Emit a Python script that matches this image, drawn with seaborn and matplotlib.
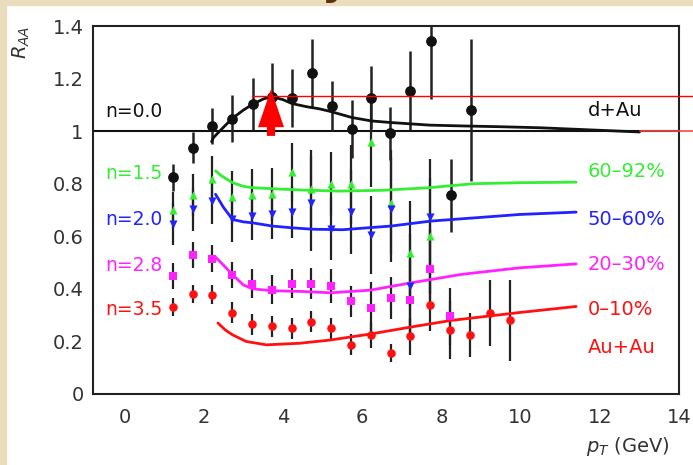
import numpy as np
import matplotlib
matplotlib.use('Agg')
import matplotlib.pyplot as plt
import seaborn as sns
from matplotlib.patches import Rectangle
from matplotlib.ticker import MultipleLocator

# --- data ---
# d+Au points (black)
dau_pt = [1.22, 1.72, 2.22, 2.72, 3.24, 3.73, 4.23, 4.74, 5.24, 5.74, 6.23, 6.71, 7.22, 7.73, 8.25, 8.75]
dau_r = [0.824, 0.937, 1.02, 1.048, 1.103, 1.131, 1.126, 1.22, 1.094, 1.008, 1.128, 0.992, 1.154, 1.342, 0.756, 1.081]
dau_err = [0.05, 0.06, 0.07, 0.09, 0.10, 0.13, 0.11, 0.13, 0.095, 0.11, 0.12, 0.10, 0.15, 0.22, 0.14, 0.27]

# Au+Au points
aa_pt = [1.22, 1.72, 2.22, 2.72, 3.22, 3.72, 4.22, 4.72, 5.22, 5.72, 6.22, 6.72, 7.22, 7.72, 8.22, 8.72, 9.22, 9.72]

per_r = [0.70, 0.757, 0.817, 0.748, 0.756, 0.76, 0.845, 0.78, 0.80, 0.798, 0.957, 0.727, 0.535, 0.60]      # 60-92%
per_err = [0.07, 0.08, 0.09, 0.10, 0.10, 0.10, 0.11, 0.15, 0.12, 0.15, 0.17, 0.20, 0.20, 0.22]
mid_r = [0.645, 0.702, 0.735, 0.667, 0.677, 0.683, 0.692, 0.725, 0.628, 0.693, 0.605, 0.702, 0.41, 0.674]  # 50-60%
mid_err = [0.08, 0.08, 0.09, 0.09, 0.09, 0.095, 0.10, 0.18, 0.12, 0.16, 0.15, 0.20, 0.20, 0.22]
semi_r = [0.45, 0.528, 0.515, 0.452, 0.42, 0.397, 0.42, 0.42, 0.41, 0.352, 0.327, 0.365, 0.359, 0.477, 0.295]  # 20-30%
semi_err = [0.05, 0.05, 0.05, 0.05, 0.055, 0.055, 0.055, 0.06, 0.065, 0.06, 0.10, 0.08, 0.15, 0.15, 0.11]
cen_r = [0.33, 0.38, 0.378, 0.31, 0.266, 0.257, 0.25, 0.274, 0.25, 0.187, 0.225, 0.155, 0.219, 0.34, 0.244, 0.225, 0.308, 0.28]  # 0-10%
cen_err = [0.035, 0.035, 0.035, 0.04, 0.04, 0.04, 0.04, 0.04, 0.04, 0.04, 0.05, 0.035, 0.07, 0.10, 0.11, 0.083, 0.127, 0.155]

# model curves
dau_curve_x = [2.2, 2.25, 2.5, 2.72, 3.0, 3.24, 3.5, 3.70, 4.0, 4.23, 4.6, 4.92, 5.2, 5.74, 6.23, 6.71, 7.7, 8.5, 9.47, 10.48, 11.74, 13.0]
dau_curve_y = [0.96, 0.976, 1.015, 1.048, 1.08, 1.103, 1.122, 1.132, 1.12, 1.105, 1.093, 1.085, 1.075, 1.052, 1.039, 1.033, 1.023, 1.02, 1.017, 1.013, 1.005, 0.997]
per_curve_x = [2.3, 2.45, 2.72, 3.0, 3.24, 3.73, 4.5, 5.43, 6.5, 7.7, 8.79, 10.0, 11.4]
per_curve_y = [0.849, 0.83, 0.805, 0.79, 0.785, 0.781, 0.776, 0.772, 0.775, 0.785, 0.80, 0.804, 0.806]
mid_curve_x = [2.3, 2.5, 2.73, 3.0, 3.24, 3.73, 4.25, 4.75, 5.5, 6.73, 7.74, 9.0, 9.97, 11.4]
mid_curve_y = [0.76, 0.71, 0.664, 0.655, 0.651, 0.639, 0.632, 0.627, 0.625, 0.639, 0.658, 0.672, 0.683, 0.692]
semi_curve_x = [2.28, 2.5, 2.73, 3.0, 3.24, 3.73, 4.5, 5.2, 6.2, 7.24, 8.5, 9.97, 11.4]
semi_curve_y = [0.524, 0.49, 0.454, 0.415, 0.40, 0.393, 0.39, 0.385, 0.395, 0.423, 0.455, 0.48, 0.495]
cen_curve_x = [2.36, 2.55, 2.73, 3.07, 3.58, 4.42, 5.18, 6.2, 7.24, 8.25, 9.97, 11.4]
cen_curve_y = [0.27, 0.243, 0.225, 0.2, 0.187, 0.193, 0.205, 0.228, 0.255, 0.28, 0.31, 0.333]

left_labels = ['n=0.0', 'n=1.5', 'n=2.0', 'n=2.8', 'n=3.5']
right_labels = ['d+Au', '60\u201392%', '50\u201360%', '20\u201330%', '0\u201310%', 'Au+Au']
y_ticks = [0, 0.2, 0.4, 0.6, 0.8, 1.0, 1.2, 1.4]
y_tick_labels = ['0', '0.2', '0.4', '0.6', '0.8', '1', '1.2', '1.4']
x_ticks = [0, 2, 4, 6, 8, 10, 12, 14]

BLACK = '#111111'
GREEN = '#33ee33'
BLUE = '#2222ff'
MAGENTA = '#ff22ff'
RED = '#ff1111'

sns.set_style('white')
plt.rcParams['font.family'] = ['DejaVu Sans']

fig = plt.figure(figsize=(6.93, 4.65), dpi=100)
# beige frame strips of the slide
fig.patches.append(Rectangle((0, 0), 6 / 693, 1, transform=fig.transFigure, color='#e9ddbb', zorder=0))
fig.patches.append(Rectangle((0, 1 - 5 / 465), 1, 5 / 465, transform=fig.transFigure, color='#e9ddbb', zorder=0))
# bottom of the slide title, cut off by the crop
fig.text(0.483, 1.013, 'y', fontsize=30, fontweight='bold', color='#5a3510', ha='center', va='baseline')

ax = fig.add_axes([0.1338, 0.1527, 0.98 - 0.1338, 0.944 - 0.1527])

ax.axhline(1.0, color=BLACK, lw=1.5, zorder=1)

# error bars (black)
ax.errorbar(dau_pt, dau_r, yerr=dau_err, fmt='none', ecolor='#222222', elinewidth=1.8, capsize=0, zorder=2)
ax.errorbar(aa_pt[:14], per_r, yerr=per_err, fmt='none', ecolor='#222222', elinewidth=1.6, capsize=0, zorder=2)
ax.errorbar(aa_pt[:14], mid_r, yerr=mid_err, fmt='none', ecolor='#222222', elinewidth=1.6, capsize=0, zorder=2)
ax.errorbar(aa_pt[:15], semi_r, yerr=semi_err, fmt='none', ecolor='#222222', elinewidth=1.6, capsize=0, zorder=2)
ax.errorbar(aa_pt, cen_r, yerr=cen_err, fmt='none', ecolor='#222222', elinewidth=1.6, capsize=0, zorder=2)

# model curves
curves = [(dau_curve_x, dau_curve_y, BLACK), (per_curve_x, per_curve_y, GREEN),
          (mid_curve_x, mid_curve_y, BLUE), (semi_curve_x, semi_curve_y, MAGENTA),
          (cen_curve_x, cen_curve_y, RED)]
for cx, cy, col in curves:
    sns.lineplot(x=np.array(cx), y=np.array(cy), sort=False, estimator=None, color=col,
                 linewidth=2.0, ax=ax, zorder=3)

# markers
sns.scatterplot(x=dau_pt, y=dau_r, color=BLACK, marker='o', s=60, linewidth=0, ax=ax, zorder=5)
sns.scatterplot(x=aa_pt[:14], y=per_r, color=GREEN, marker='^', s=34, linewidth=0, ax=ax, zorder=5)
sns.scatterplot(x=aa_pt[:14], y=mid_r, color=BLUE, marker='v', s=34, linewidth=0, ax=ax, zorder=5)
sns.scatterplot(x=aa_pt[:15], y=semi_r, color=MAGENTA, marker='s', s=30, linewidth=0, ax=ax, zorder=5)
sns.scatterplot(x=aa_pt, y=cen_r, color=RED, marker='o', s=38, linewidth=0, ax=ax, zorder=5)

# text labels
left_y = [1.073, 0.84, 0.664, 0.489, 0.321]
left_c = [BLACK, GREEN, BLUE, MAGENTA, RED]
for lab, yy, col in zip(left_labels, left_y, left_c):
    ax.text(-0.48, yy, lab, color=col, fontsize=13.5, ha='left', va='center')
right_y = [1.077, 0.845, 0.664, 0.492, 0.321, 0.176]
right_c = [BLACK, GREEN, BLUE, MAGENTA, RED, RED]
for lab, yy, col in zip(right_labels, right_y, right_c):
    ax.text(11.69, yy, lab, color=col, fontsize=14, ha='left', va='center')

# red highlight marks
ax.plot([3.23, 14.4], [1.134, 1.134], color='red', lw=1.0, clip_on=False, zorder=6)
ax.plot([13.0, 14.4], [1.0, 1.0], color='#ff4444', lw=1.2, clip_on=False, zorder=6)
ax.annotate('', xy=(3.70, 1.160), xytext=(3.70, 0.982),
            arrowprops=dict(arrowstyle='simple,head_width=1.87,head_length=2.74,tail_width=0.58',
                            mutation_scale=10, color='red', lw=0, shrinkA=0, shrinkB=0), zorder=7)

# axes
ax.set_xlim(-0.8, 14)
ax.set_ylim(0, 1.4)
ax.set_xticks(x_ticks)
ax.set_yticks(y_ticks, labels=y_tick_labels)
ax.xaxis.set_minor_locator(MultipleLocator(0.5))
ax.yaxis.set_minor_locator(MultipleLocator(0.05))
ax.tick_params(which='both', direction='in', top=False, right=False, color='#222222', width=1.4,
               labelsize=14, labelcolor='#333333')
ax.tick_params(axis='x', which='major', length=10, pad=10)
ax.tick_params(axis='x', which='minor', length=5)
ax.tick_params(axis='y', which='major', length=11, pad=6.5)
ax.tick_params(axis='y', which='minor', length=5)
for sp in ax.spines.values():
    sp.set_color('#222222')
    sp.set_linewidth(1.5)

ax.set_ylabel('$R_{AA}$', fontsize=14, color='#333333')
ax.yaxis.set_label_coords(-0.1035, 0.955)
ax.set_xlabel('$p_T$ (GeV)', fontsize=14, color='#333333')
ax.xaxis.set_label_coords(0.913, -0.112)

fig.savefig('out.png', dpi=100)
